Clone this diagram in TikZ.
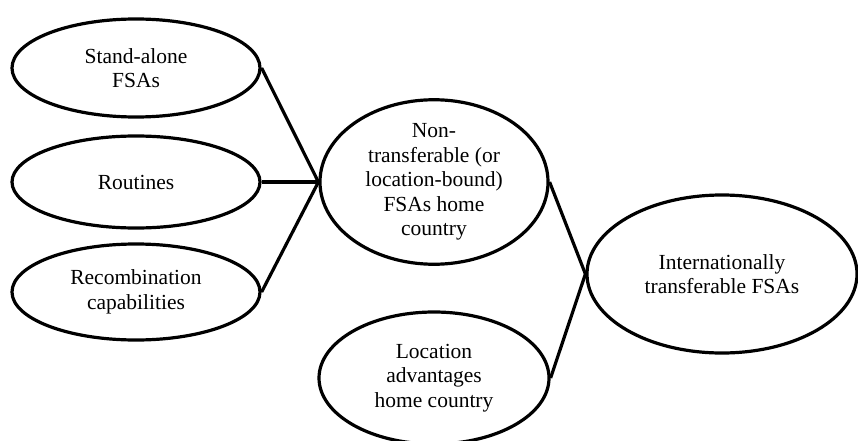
\documentclass[tikz,border=0pt]{standalone}
\usepackage{fontspec}
\setmainfont{Liberation Serif}
\usetikzlibrary{shapes.geometric}
\begin{document}
\begin{tikzpicture}[x=1pt, y=-1pt,
    fsa/.style={draw, ellipse, line width=3.2pt, inner sep=0pt, align=center,
      font=\fontsize{21.5}{24.4}\selectfont}]
    \useasboundingbox (0,0) rectangle (858,441);

    \node[fsa, minimum width=248pt, minimum height=98pt] (standalone) at (136,68) {Stand-alone\\FSAs};
    \node[fsa, minimum width=248pt, minimum height=92pt] (routines) at (136,182) {Routines};
    \node[fsa, minimum width=248pt, minimum height=96pt] (recomb) at (136,292) {Recombination\\capabilities};
    \node[fsa, minimum width=228pt, minimum height=139pt] (nontrans) at (434,182)
      {Non-\\transferable (or\\location-bound)\\FSAs home\\country};
    \node[fsa, minimum width=230pt, minimum height=132pt] (locadv) at (434,378)
      {Location\\advantages\\home country};
    \node[fsa, minimum width=270pt, minimum height=158pt] (inttrans) at (722,274)
      {Internationally\\transferable FSAs};

    \foreach \src in {standalone, routines, recomb} {
      \draw[line width=3.2pt] (\src.east) -- (nontrans.west);
    }
    \foreach \src in {nontrans, locadv} {
      \draw[line width=3.2pt] (\src.east) -- (inttrans.west);
    }

  \end{tikzpicture}
\end{document}
